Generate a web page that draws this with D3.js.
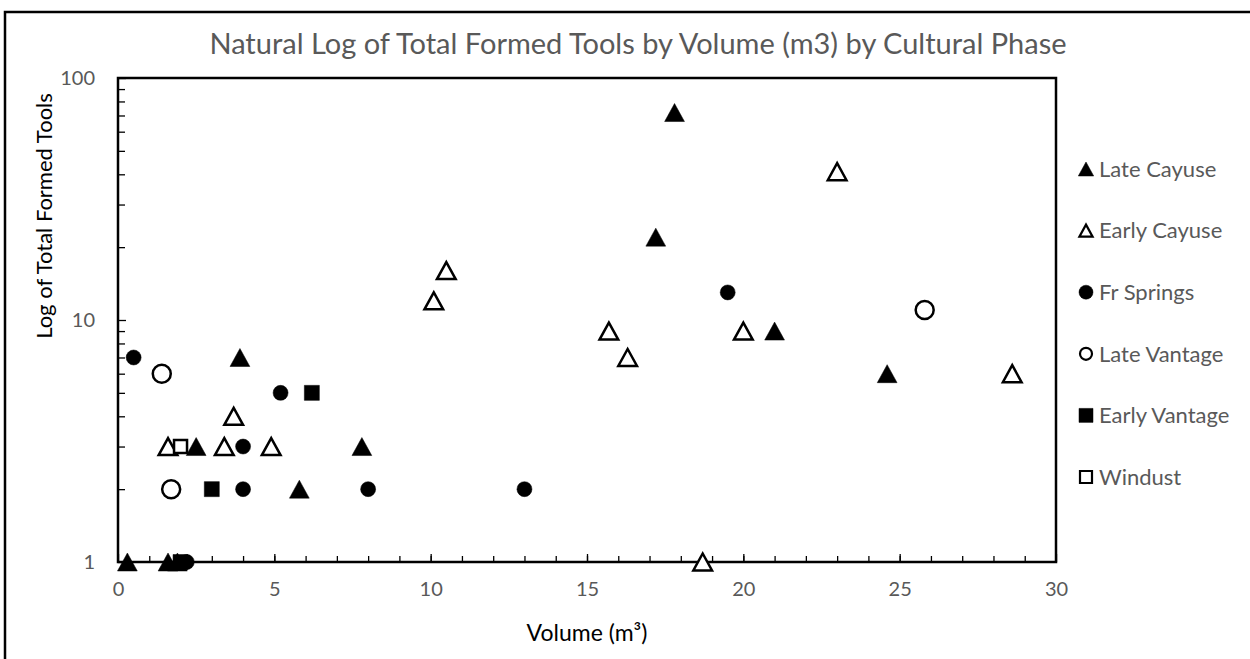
<!DOCTYPE html>
<html>
<head>
<meta charset="utf-8">
<script src="https://cdn.jsdelivr.net/npm/d3@7"></script>
<style>
  body { margin: 0; background: #fff; }
  svg text { font-family: Lato, "Open Sans", sans-serif; }
</style>
</head>
<body>
<div id="chart"></div>
<script>
// Natural log of total formed tools by volume, one array pair per cultural phase

const phases = ["Late Cayuse", "Early Cayuse", "Fr Springs", "Late Vantage", "Early Vantage", "Windust"];

const lateCayuseX = [0.3, 1.6, 1.9, 2.5, 3.9, 5.8, 7.8, 17.2, 17.8, 21, 24.6];
const lateCayuseY = [1, 1, 1, 3, 7, 2, 3, 22, 72, 9, 6];

const earlyCayuseX = [1.6, 3.4, 3.7, 4.9, 10.1, 10.5, 15.7, 16.3, 18.7, 20, 23, 28.6];
const earlyCayuseY = [3, 3, 4, 3, 12, 16, 9, 7, 1, 9, 41, 6];

const frSpringsX = [0.5, 2.2, 4, 4, 5.2, 8, 13, 19.5];
const frSpringsY = [7, 1, 3, 2, 5, 2, 2, 13];

const lateVantageX = [1.4, 1.7, 25.8];
const lateVantageY = [6, 2, 11];

const earlyVantageX = [2.0, 3.0, 6.2];
const earlyVantageY = [1, 2, 5];

const windustX = [2.0];
const windustY = [3];

const xTicks = [0, 5, 10, 15, 20, 25, 30];
const yTicks = [1, 10, 100];

// marker shape + fill for each phase, in legend order
const markers = [
  { shape: "triangle", filled: true },
  { shape: "triangle", filled: false },
  { shape: "circle", filled: true },
  { shape: "circle", filled: false },
  { shape: "square", filled: true },
  { shape: "square", filled: false }
];

const seriesX = [lateCayuseX, earlyCayuseX, frSpringsX, lateVantageX, earlyVantageX, windustX];
const seriesY = [lateCayuseY, earlyCayuseY, frSpringsY, lateVantageY, earlyVantageY, windustY];

const width = 1250;
const height = 659;
const plot = { left: 118, top: 78, right: 1056, bottom: 562 };

const svg = d3.select("#chart")
  .append("svg")
  .attr("width", width)
  .attr("height", height);

// outer chart border
svg.append("rect")
  .attr("x", 5)
  .attr("y", 12)
  .attr("width", width + 20)
  .attr("height", height + 20)
  .attr("fill", "white")
  .attr("stroke", "black")
  .attr("stroke-width", 2.5);

const x = d3.scaleLinear().domain([0, 30]).range([plot.left, plot.right]);
const y = d3.scaleLog().domain([1, 100]).range([plot.bottom, plot.top]);

// minor ticks on x (every 1 unit), inside the plot
svg.append("g")
  .attr("transform", "translate(0," + plot.bottom + ")")
  .call(d3.axisBottom(x).tickValues(d3.range(1, 30)).tickSize(-6).tickSizeOuter(0).tickFormat(""))
  .call(g => g.select(".domain").remove())
  .call(g => g.selectAll("line").attr("stroke-width", 1.3));

// major x ticks + labels
svg.append("g")
  .attr("transform", "translate(0," + plot.bottom + ")")
  .call(d3.axisBottom(x).tickValues(xTicks).tickSize(-8).tickSizeOuter(0).tickPadding(20))
  .call(g => g.select(".domain").remove())
  .call(g => g.selectAll("line").attr("stroke-width", 1.3))
  .call(g => g.selectAll("text")
    .attr("fill", "#595959")
    .style("font-size", "20px"));

// minor ticks on the log y axis
const yMinor = [];
[1, 10].forEach(base => d3.range(2, 10).forEach(k => yMinor.push(base * k)));

svg.append("g")
  .attr("transform", "translate(" + plot.left + ",0)")
  .call(d3.axisLeft(y).tickValues(yMinor).tickSize(-7).tickSizeOuter(0).tickFormat(""))
  .call(g => g.select(".domain").remove())
  .call(g => g.selectAll("line").attr("stroke-width", 1.3));

svg.append("g")
  .attr("transform", "translate(" + plot.left + ",0)")
  .call(d3.axisLeft(y).tickValues(yTicks).tickSize(-8).tickSizeOuter(0).tickPadding(23).tickFormat(d3.format("d")))
  .call(g => g.select(".domain").remove())
  .call(g => g.selectAll("line").attr("stroke-width", 1.3))
  .call(g => g.selectAll("text")
    .attr("fill", "#595959")
    .style("font-size", "20px"));

// plot area border
svg.append("rect")
  .attr("x", plot.left)
  .attr("y", plot.top)
  .attr("width", plot.right - plot.left)
  .attr("height", plot.bottom - plot.top)
  .attr("fill", "none")
  .attr("stroke", "black")
  .attr("stroke-width", 2.5);

// path for a marker centred on its bounding box
function markerPath(shape, s) {
  if (shape === "triangle") {
    const w = s * 1.1, h = s;
    return "M0," + (-h / 2) + "L" + (w / 2) + "," + (h / 2) + "L" + (-w / 2) + "," + (h / 2) + "Z";
  }
  if (shape === "square") {
    return "M" + (-s / 2) + "," + (-s / 2) + "h" + s + "v" + s + "h" + (-s) + "Z";
  }
  const r = s / 2;
  return "M" + r + ",0A" + r + "," + r + " 0 1,1 " + (-r) + ",0A" + r + "," + r + " 0 1,1 " + r + ",0Z";
}

function markerSize(m) {
  if (m.shape === "triangle") return m.filled ? 18 : 17;
  if (m.shape === "circle") return m.filled ? 15 : 18;
  return m.filled ? 15 : 13;
}

// draw the points, series by series
seriesX.forEach((xs, si) => {
  const m = markers[si];
  const pts = xs.map((v, i) => ({ x: v, y: seriesY[si][i] }));
  svg.append("g")
    .selectAll("path")
    .data(pts)
    .enter()
    .append("path")
    .attr("transform", d => "translate(" + x(d.x) + "," + y(d.y) + ")")
    .attr("d", markerPath(m.shape, markerSize(m)))
    .attr("fill", m.filled ? "black" : "white")
    .attr("stroke", "black")
    .attr("stroke-width", m.filled ? 0.5 : 2.5)
    .attr("stroke-linejoin", "miter");
});

// title
svg.append("text")
  .attr("x", 638)
  .attr("y", 54)
  .attr("text-anchor", "middle")
  .attr("fill", "#595959")
  .style("font-size", "29px")
  .text("Natural Log of Total Formed Tools by Volume (m3) by Cultural Phase");

// axis titles
svg.append("text")
  .attr("transform", "translate(52,216) rotate(-90)")
  .attr("text-anchor", "middle")
  .attr("fill", "black")
  .style("font-size", "22px")
  .text("Log of Total Formed Tools");

svg.append("text")
  .attr("x", (plot.left + plot.right) / 2)
  .attr("y", 641)
  .attr("text-anchor", "middle")
  .attr("fill", "black")
  .style("font-size", "23px")
  .text("Volume (m³)");

// legend
const legendY = d3.scalePoint().domain(phases).range([169, 477]);

const legend = svg.append("g")
  .selectAll("g")
  .data(phases)
  .enter()
  .append("g")
  .attr("transform", d => "translate(1086," + legendY(d) + ")");

legend.append("path")
  .attr("d", (d, i) => markerPath(markers[i].shape, markers[i].filled ? 14 : 12))
  .attr("fill", (d, i) => markers[i].filled ? "black" : "white")
  .attr("stroke", "black")
  .attr("stroke-width", (d, i) => markers[i].filled ? 0.5 : 2.2);

legend.append("text")
  .attr("x", 13)
  .attr("dy", "0.35em")
  .attr("fill", "#595959")
  .style("font-size", "22px")
  .text(d => d);
</script>
</body>
</html>
